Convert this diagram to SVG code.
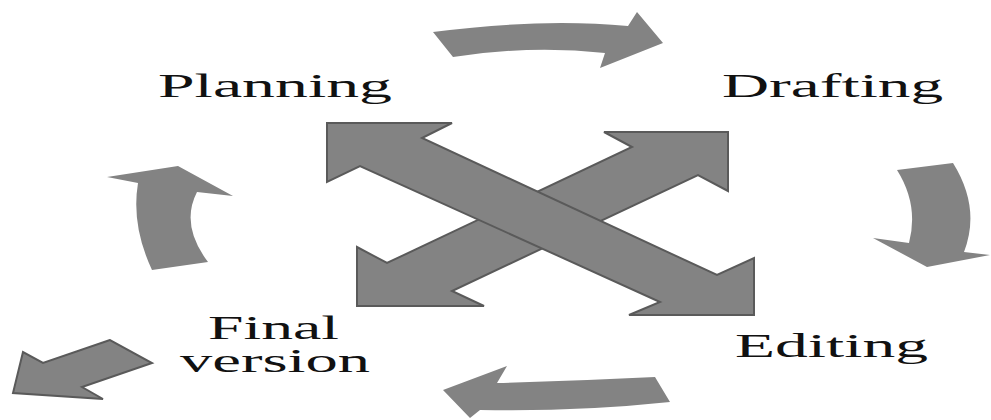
<svg xmlns="http://www.w3.org/2000/svg" width="991" height="420" viewBox="0 0 991 420">
<style>
.lbl{font-family:"Liberation Serif","Times New Roman",serif;font-size:33px;fill:#111;}
.flat{fill:#838383;stroke:none;}
.edged{fill:#838383;stroke:#5a5a5a;stroke-width:2;stroke-linejoin:miter;}
</style>
<rect width="991" height="420" fill="#fff"/>
<g id="connectors">
<path class="flat" d="M433,32 Q540,18 628,26 L637,12 L663,43 L600,68 L605,53 Q530,45 453,57 Z"/>
<path class="flat" d="M897,170 L953,163 Q981,208 964,252 L990,255 L927,267 L873,238 L909,243 Q919,205 897,170 Z"/>
<path class="flat" d="M655,377 Q575,381 497,383 L507,366 L443,390 L470,418 L480,410 Q575,412 670,402 Z"/>
<path class="flat" d="M138,183 L107,177 L178,166 L233,196 L197,192 Q180,225 208,262 L152,270 Q131,225 138,183 Z"/>
<path class="edged" d="M110,340 L43,363 L23,352 L13,393 L103,399 L82,387 L152,363 Z"/>
<polygon class="edged" points="604,132 728,132 728,191 698,175 452,291 484,306 357,306 357,247 387,263 632,147"/>
<polygon class="edged" points="327,123 452,123 422,138 717,275 754,258 754,315 629,315 660,302 360,166 327,182"/>
</g>
<g id="planning"><text class="lbl" x="158" y="97" textLength="234" lengthAdjust="spacingAndGlyphs">Planning</text></g>
<g id="drafting"><text class="lbl" x="722" y="97" textLength="221" lengthAdjust="spacingAndGlyphs">Drafting</text></g>
<g id="editing"><text class="lbl" x="735" y="357" textLength="193" lengthAdjust="spacingAndGlyphs">Editing</text></g>
<g id="final-version">
<text class="lbl" x="208" y="339" textLength="131" lengthAdjust="spacingAndGlyphs">Final</text>
<text class="lbl" x="180" y="372" textLength="190" lengthAdjust="spacingAndGlyphs">version</text>
</g>
</svg>
